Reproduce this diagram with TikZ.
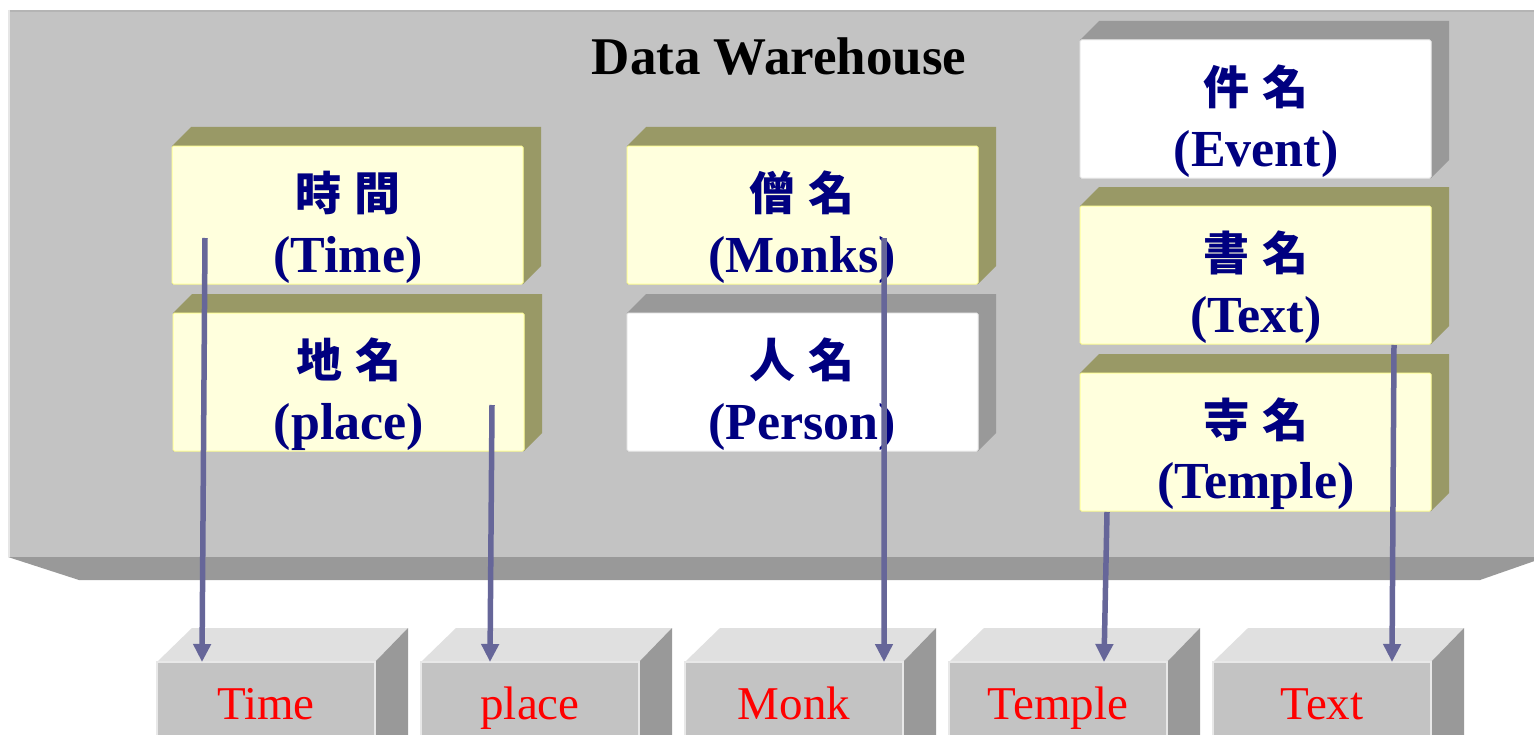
\documentclass[tikz,border=0pt]{standalone}
\usepackage{fontspec}
\setmainfont{Liberation Serif}
\newfontfamily\cjkfont{Noto Sans CJK TC}
\usetikzlibrary{arrows.meta}
\definecolor{whgray}{HTML}{C3C3C3}
\definecolor{whedge}{HTML}{B4B4B4}
\definecolor{whlight}{HTML}{E6E6E6}
\definecolor{darkgray3d}{HTML}{999999}
\definecolor{lightgray3d}{HTML}{E0E0E0}
\definecolor{olive3d}{HTML}{999966}
\definecolor{paleyellow}{HTML}{FFFFDD}
\definecolor{yellowedge}{HTML}{FFFF99}
\definecolor{navytext}{HTML}{000080}
\definecolor{arrowblue}{HTML}{666699}
\tikzset{
  frontface/.style={draw=yellowedge, line width=1bp, fill=paleyellow, rounded corners=1.5bp,
    minimum width=351bp, minimum height=138bp, inner sep=0pt, outer sep=0pt, anchor=north west},
  whiteface/.style={frontface, draw=white!85!gray, fill=white},
  botface/.style={draw=white!82!gray, line width=1.2bp, fill=whgray,
    minimum width=218bp, minimum height=140bp, inner sep=0pt, outer sep=0pt, anchor=north west},
  cjklab/.style={text=navytext, font=\cjkfont\bfseries\fontsize{46bp}{50bp}\selectfont, inner sep=0pt, anchor=center},
  latlab/.style={text=navytext, font=\bfseries\fontsize{52bp}{60bp}\selectfont, inner sep=0pt, anchor=base},
  botlab/.style={text=red, font=\fontsize{47bp}{54bp}\selectfont, inner sep=0pt, anchor=base},
  titlelab/.style={text=black, font=\bfseries\fontsize{53bp}{60bp}\selectfont, inner sep=0pt, anchor=base},
  conn/.style={draw=arrowblue, line width=5.5bp, -{Triangle[width=17bp,length=18bp]}}
}
% inner 3D box: #1 name, #2 x, #3 y, #4 face style, #5 depth colour
\newcommand\innerbox[5]{%
  \fill[#5] (#2,#3) -- ++(19,-19) -- ++(350,0) -- ++(0,139) -- ++(-18,18) -- ++(-351,0) -- cycle;
  \node[#4] (#1) at (#2,#3) {};
}
% bottom 3D box: #1 name, #2 x, #3 label
\newcommand\botbox[3]{%
  \fill[lightgray3d] (#2,662) -- ++(35,-34) -- ++(216,0) -- ++(-33,34) -- cycle;
  \fill[darkgray3d] (#2+218,662) -- ++(33,-34) -- ++(0,120) -- ++(-33,34) -- cycle;
  \node[botface] (#1) at (#2,662) {};
  \node[botlab] (#1-l) at (#2+109,719) {#3};
}
\begin{document}
\begin{tikzpicture}[x=1bp,y=-1bp]
\useasboundingbox (0,0) rectangle (1534,735);
\clip (0,0) rectangle (1534,735);
\fill[white] (0,0) rectangle (1534,735);
% warehouse
\fill[whgray] (8,10) rectangle (1546,557);
\draw[whedge, line width=2.5bp] (8,11) -- (1546,11);
\draw[whlight, line width=2bp] (9,10) -- (9,557);
\fill[darkgray3d] (8,557) -- (1546,557) -- (1480,580) -- (79,580) -- cycle;
\node[titlelab] (title) at (779,75) {Data Warehouse};
% inner boxes
\innerbox{time}{172}{146}{frontface}{olive3d}
\innerbox{place}{173}{313}{frontface}{olive3d}
\innerbox{monks}{627}{146}{frontface}{olive3d}
\innerbox{person}{627}{313}{whiteface}{darkgray3d}
\innerbox{event}{1080}{40}{whiteface}{darkgray3d}
\innerbox{text}{1080}{206}{frontface}{olive3d}
\innerbox{temple}{1080}{373}{frontface}{olive3d}
% labels
\node[cjklab] (time-c) at (348,193) {時\hspace{13bp}間};
\node[latlab] (time-l) at (348,272) {(Time)};
\node[cjklab] (place-c) at (349,360) {地\hspace{13bp}名};
\node[latlab] (place-l) at (349,439) {(place)};
\node[cjklab] (monks-c) at (802,193) {僧\hspace{13bp}名};
\node[latlab] (monks-l) at (802,272) {(Monks)};
\node[cjklab] (person-c) at (802,360) {人\hspace{13bp}名};
\node[latlab] (person-l) at (802,439) {(Person)};
\node[cjklab] (event-c) at (1256,87) {件\hspace{13bp}名};
\node[latlab] (event-l) at (1256,166) {(Event)};
\node[cjklab] (text-c) at (1256,253) {書\hspace{13bp}名};
\node[latlab] (text-l) at (1256,332) {(Text)};
\node[cjklab] (temple-c) at (1256,420) {寺\hspace{13bp}名};
\node[latlab] (temple-l) at (1256,498) {(Temple)};
% bottom boxes
\botbox{btime}{157}{Time}
\botbox{bplace}{421}{place}
\botbox{bmonk}{685}{Monk}
\botbox{btemple}{949}{Temple}
\botbox{btext}{1213}{Text}
% connectors
\coordinate (s1) at (205,238);
\coordinate (s2) at (492,405);
\coordinate (s3) at (884,238);
\coordinate (s4) at (1107,512);
\coordinate (s5) at (1394,345);
\draw[conn] (s1) -- ([xshift=45bp]btime.north west);
\draw[conn] (s2) -- ([xshift=69bp]bplace.north west);
\draw[conn] (s3) -- ([xshift=199bp]bmonk.north west);
\draw[conn] (s4) -- ([xshift=155bp]btemple.north west);
\draw[conn] (s5) -- ([xshift=179bp]btext.north west);
\end{tikzpicture}
\end{document}
